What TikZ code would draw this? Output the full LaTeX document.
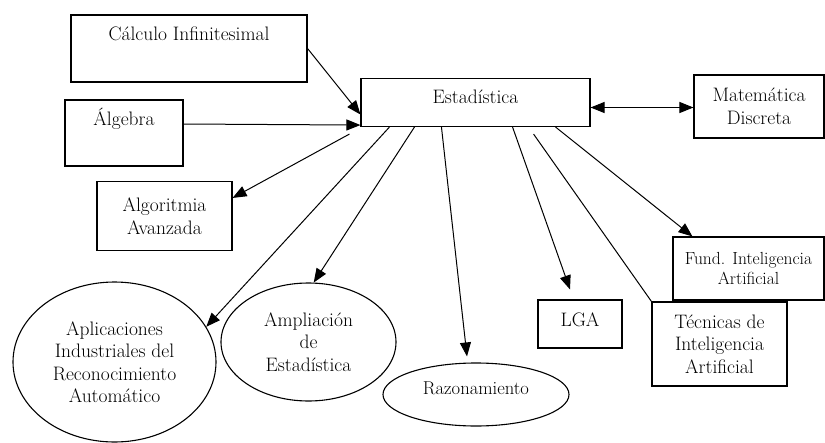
\documentclass[tikz,border=0pt]{standalone}
\usepackage{fontspec}
\usetikzlibrary{shapes.geometric, calc, arrows.meta}
\tikzset{
    subj/.style={draw, rectangle, line width=1.1pt, align=center, inner sep=2pt, font=\fontsize{19.5}{22.5}\selectfont},
    oval/.style={draw, ellipse, line width=1.1pt, align=center, inner sep=0pt, font=\fontsize{19.5}{22.5}\selectfont},
    link/.style={line width=1pt, ->},
    >={Triangle[length=14pt, width=11pt]},
}

\begin{document}
\begin{tikzpicture}[x=1pt, y=-1pt]
    \useasboundingbox (0,0) rectangle (825,442);

    \node[subj, minimum width=236pt, minimum height=67pt, text height=14pt, text depth=30pt] (calc) at (189,48.5) {Cálculo Infinitesimal};
    \node[subj, minimum width=118pt, minimum height=66pt, text height=14pt, text depth=29pt] (alg) at (124,133) {Álgebra};
    \node[subj, minimum width=229pt, minimum height=48pt, text height=14pt, text depth=12pt] (est) at (475.5,102.5) {Estadística};
    \node[subj, minimum width=130pt, minimum height=63pt] (mat) at (759,106.5) {Matemática\\Discreta};
    \node[subj, minimum width=135pt, minimum height=69pt] (algo) at (164.5,216) {Algoritmia\\Avanzada};
    \node[subj, minimum width=151pt, minimum height=63pt, font=\fontsize{17.5}{20}\selectfont] (fund) at (748.5,268.5) {Fund. Inteligencia\\Artificial};
    \node[subj, minimum width=135pt, minimum height=84pt] (tec) at (719.5,344) {Técnicas de\\Inteligencia\\Artificial};
    \node[subj, minimum width=84pt, minimum height=48pt, text height=14pt, text depth=9pt] (lga) at (580,324) {LGA};

    \node[oval, minimum width=203pt, minimum height=160pt] (apl) at (114.5,362) {Aplicaciones\\Industriales del\\Reconocimiento\\Automático};
    \node[oval, minimum width=175pt, minimum height=118pt] (amp) at (308.5,342) {Ampliación\\de\\Estadística};
    \node[oval, minimum width=186pt, minimum height=63pt, font=\fontsize{18.6}{20}\selectfont, text height=13pt, text depth=13pt] (razo) at (476,394.5) {Razonamiento};

    \draw[link] (calc.east) -- ($(est.west)+(0,12)$);
    \draw[link] ($(alg.east)+(0,-9)$) -- ($(est.south west)+(0,-2)$);
    \draw[link] ($(est.south west)+(-11,7)$) -- ($(algo.north east)+(0,17)$);
    \draw[link] ($(est.south west)+(29,0)$) -- (apl.21);
    \draw[link] ($(est.south west)+(54,0)$) -- (amp.85);
    \draw[link] ($(est.south west)+(81,0)$) -- ($(razo.north)+(-9,-6)$);
    \draw[link] ($(est.south east)+(-78,0)$) -- ($(lga.north)+(-10,-10)$);
    \draw[line width=1pt] ($(est.south east)+(-57,7)$) -- (tec.north west);
    \draw[link] ($(est.south east)+(-35,0)$) -- ($(fund.north west)+(20,0)$);
    \draw[link, <->] ($(est.east)+(0,5)$) -- ($(mat.west)+(0,1)$);
\end{tikzpicture}
\end{document}
